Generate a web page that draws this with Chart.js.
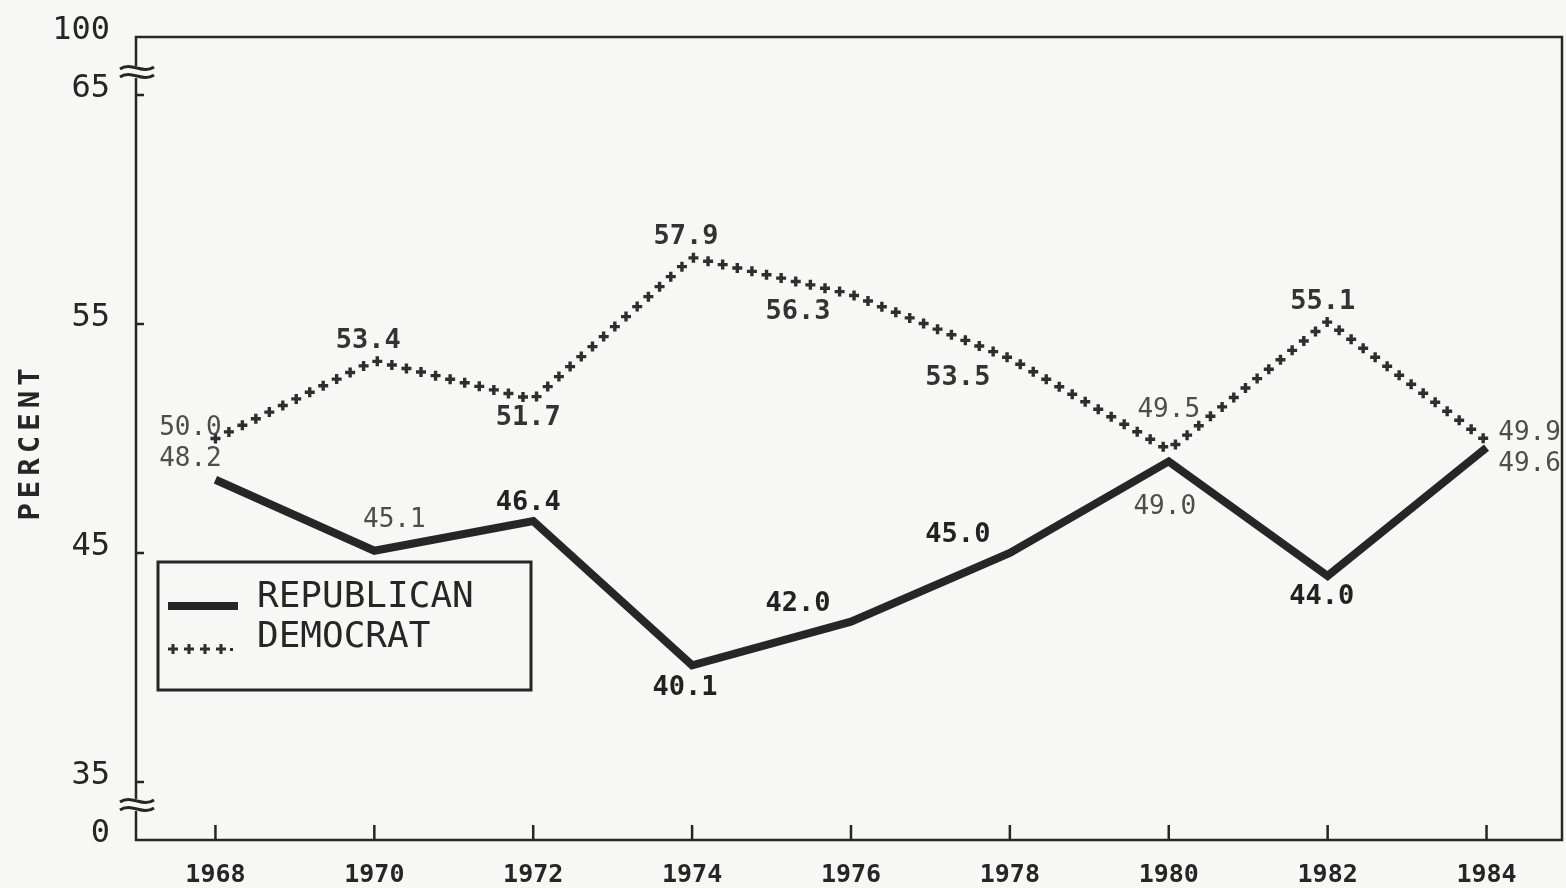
<!DOCTYPE html>
<html>
<head>
<meta charset="utf-8">
<title>Vote cast for U.S. House of Representatives</title>
<script src="https://cdn.jsdelivr.net/npm/chart.js@4/dist/chart.umd.min.js"></script>
<style>
  html, body { margin: 0; padding: 0; background: #f7f7f5; }
  #wrap { width: 1566px; height: 888px; }
</style>
</head>
<body>
<div id="wrap"><canvas id="chart" width="1566" height="888"></canvas></div>
<script>
// Data
const years = [1968, 1970, 1972, 1974, 1976, 1978, 1980, 1982, 1984];
const republican = [48.2, 45.1, 46.4, 40.1, 42.0, 45.0, 49.0, 44.0, 49.6];
const democrat = [50.0, 53.4, 51.7, 57.9, 56.3, 53.5, 49.5, 55.1, 49.9];
const seriesNames = ['REPUBLICAN', 'DEMOCRAT'];
const yTicks = [35, 45, 55, 65];
const yEndLabels = ['0', '100'];   // shown at the broken ends of the axis
const yTitle = 'PERCENT';

// where each value label sits relative to its point: [dx, dy, look]
const repLabelPlace = [[-25, -20, 'light'], [20, -30, 'light'], [-5, -18, 'bold'], [-7, 23, 'bold'],
  [-53, -18, 'bold'], [-52, -18, 'bold'], [-4, 46, 'light'], [-6, 21, 'bold'], [43, 17, 'light']];
const demLabelPlace = [[-25, -10, 'light'], [-6, -20, 'mid'], [-5, 18, 'mid'], [-6, -21, 'mid'],
  [-53, 18, 'mid'], [-52, 20, 'mid'], [0, -40, 'light'], [-5, -20, 'mid'], [43, -8, 'light']];

const Y_MIN = 32.47, Y_MAX = 67.53;
const INK = '#262626';
const MONO = '"DejaVu Sans Mono", "Liberation Mono", monospace';

const labelFonts = {
    light: { font: '26px ' + MONO, color: '#4d4d4d' },
    mid: { font: 'bold 27px ' + MONO, color: '#333' },
    bold: { font: 'bold 27px ' + MONO, color: '#222' }
};

// draws the "+ + + +" chain along a polyline
function crossChain(ctx, pts, step) {
    let carry = 0;
    for (let i = 0; i < pts.length - 1; i++) {
        const a = pts[i], b = pts[i + 1];
        const len = Math.hypot(b.x - a.x, b.y - a.y);
        let d = carry;
        while (d <= len) {
            const t = d / len;
            drawCross(ctx, a.x + (b.x - a.x) * t, a.y + (b.y - a.y) * t);
            d += step;
        }
        carry = d - len;
    }
}

function drawCross(ctx, x, y) {
    ctx.beginPath();
    ctx.moveTo(x - 5, y); ctx.lineTo(x + 5, y);
    ctx.moveTo(x, y - 5); ctx.lineTo(x, y + 5);
    ctx.stroke();
}

function drawBreak(ctx, cx, cy) {
    ctx.save();
    ctx.fillStyle = '#f7f7f5';
    ctx.fillRect(cx - 4, cy - 6, 8, 12);
    ctx.strokeStyle = INK;
    ctx.lineWidth = 3;
    [-4, 4].forEach(function(off) {
        const y = cy + off, x0 = cx - 17, w = 34;
        ctx.beginPath();
        ctx.moveTo(x0, y + 1);
        ctx.bezierCurveTo(x0 + w / 3, y - 7, x0 + 2 * w / 3, y + 7, x0 + w, y - 1);
        ctx.stroke();
    });
    ctx.restore();
}

const decorations = {
    id: 'decorations',
    afterDatasetsDraw(chart) {
        const ctx = chart.ctx;
        const area = chart.chartArea;
        const xs = chart.scales.x, ys = chart.scales.y;

        // democrat line as a chain of crosses
        ctx.save();
        ctx.strokeStyle = '#2e2e2e';
        ctx.lineWidth = 3.4;
        const demPts = chart.getDatasetMeta(1).data.map(function(el) { return { x: el.x, y: el.y }; });
        crossChain(ctx, demPts, 15);
        ctx.restore();

        // frame and inward ticks
        ctx.save();
        ctx.strokeStyle = INK;
        ctx.lineWidth = 2.5;
        ctx.strokeRect(area.left, area.top, area.right - area.left, area.bottom - area.top);
        ctx.beginPath();
        yTicks.forEach(function(v) {
            const y = ys.getPixelForValue(v);
            ctx.moveTo(area.left, y); ctx.lineTo(area.left + 8, y);
        });
        years.forEach(function(v) {
            const x = xs.getPixelForValue(v);
            ctx.moveTo(x, area.bottom); ctx.lineTo(x, area.bottom - 15);
        });
        ctx.stroke();
        ctx.restore();

        drawBreak(ctx, area.left + 1, ys.getPixelForValue(66));
        drawBreak(ctx, area.left + 1, ys.getPixelForValue(34));

        // value labels
        ctx.save();
        ctx.textAlign = 'center';
        ctx.textBaseline = 'middle';
        [[0, repLabelPlace], [1, demLabelPlace]].forEach(function(pair) {
            const ds = chart.data.datasets[pair[0]];
            chart.getDatasetMeta(pair[0]).data.forEach(function(el, i) {
                const p = pair[1][i];
                const look = labelFonts[p[2]];
                ctx.font = look.font;
                ctx.fillStyle = look.color;
                ctx.fillText(ds.data[i].y.toFixed(1), el.x + p[0], el.y + p[1]);
            });
        });
        ctx.restore();

        // axis title
        ctx.save();
        ctx.translate(31, 444);
        ctx.rotate(-Math.PI / 2);
        ctx.font = 'bold 29px ' + MONO;
        ctx.letterSpacing = '5px';
        ctx.fillStyle = INK;
        ctx.textAlign = 'center';
        ctx.textBaseline = 'middle';
        ctx.fillText(yTitle, 2, 0);
        ctx.restore();

        // legend box
        ctx.save();
        ctx.strokeStyle = INK;
        ctx.lineWidth = 3;
        ctx.strokeRect(158, 562, 373, 128);
        ctx.lineWidth = 8;
        ctx.beginPath();
        ctx.moveTo(168, 606); ctx.lineTo(238, 606);
        ctx.stroke();
        ctx.lineWidth = 3;
        ctx.strokeStyle = '#2e2e2e';
        [173, 189, 205, 221].forEach(function(x) { drawCross(ctx, x, 649); });
        ctx.fillStyle = '#2e2e2e';
        ctx.fillRect(230, 648, 3, 3);
        ctx.font = '36px ' + MONO;
        ctx.fillStyle = INK;
        ctx.textBaseline = 'middle';
        ctx.fillText(chart.data.datasets[0].label, 257, 598);
        ctx.fillText(chart.data.datasets[1].label, 257, 638);
        ctx.restore();
    }
};

new Chart(document.getElementById('chart'), {
    type: 'line',
    data: {
        datasets: [{
            label: seriesNames[0],
            data: years.map(function(y, i) { return { x: y, y: republican[i] }; }),
            borderColor: INK,
            borderWidth: 8,
            borderJoinStyle: 'miter',
            pointRadius: 0,
            tension: 0
        }, {
            label: seriesNames[1],
            data: years.map(function(y, i) { return { x: y, y: democrat[i] }; }),
            borderColor: 'rgba(0,0,0,0)',
            borderWidth: 0,
            pointRadius: 0,
            tension: 0
        }]
    },
    options: {
        responsive: false,
        animation: false,
        devicePixelRatio: 1,
        layout: { padding: { top: 37, right: 4, left: 0, bottom: 0 } },
        plugins: {
            legend: { display: false },
            tooltip: { enabled: false }
        },
        scales: {
            x: {
                type: 'linear',
                min: 1967,
                max: 1984.95,
                grid: { display: false },
                border: { display: false },
                afterBuildTicks: function(scale) {
                    scale.ticks = years.map(function(v) { return { value: v }; });
                },
                afterFit: function(scale) {
                    scale.height = 48;
                    scale.paddingLeft = 0;
                    scale.paddingRight = 0;
                },
                ticks: {
                    autoSkip: false,
                    maxRotation: 0,
                    padding: 12,
                    color: INK,
                    font: { family: MONO, size: 25, weight: 'bold' },
                    callback: function(v) { return String(v); }
                }
            },
            y: {
                type: 'linear',
                min: Y_MIN,
                max: Y_MAX,
                grid: { display: false },
                border: { display: false },
                afterBuildTicks: function(scale) {
                    scale.ticks = [Y_MIN].concat(yTicks, [Y_MAX]).map(function(v) { return { value: v }; });
                },
                afterFit: function(scale) {
                    scale.width = 136;
                    scale.paddingTop = 0;
                    scale.paddingBottom = 0;
                },
                ticks: {
                    padding: 18,
                    labelOffset: -6,
                    color: INK,
                    font: { family: MONO, size: 32 },
                    callback: function(v) {
                        if (v === Y_MIN) return yEndLabels[0];
                        if (v === Y_MAX) return yEndLabels[1];
                        return String(v);
                    }
                }
            }
        }
    },
    plugins: [decorations]
});
</script>
</body>
</html>
